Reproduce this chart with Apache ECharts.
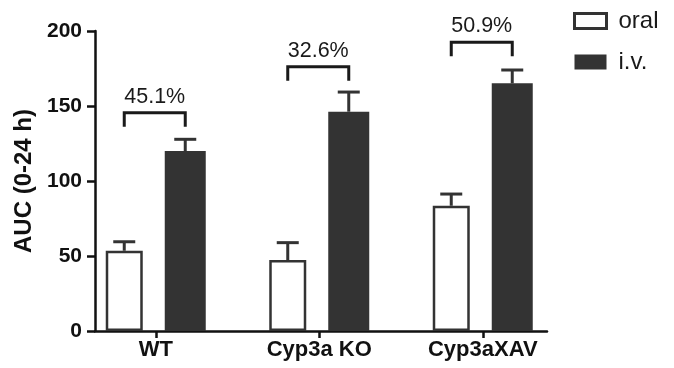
<!DOCTYPE html>
<html>
<head>
<meta charset="utf-8">
<script src="https://cdn.jsdelivr.net/npm/echarts@6/dist/echarts.min.js"></script>
<style>html,body{margin:0;padding:0;background:#fff}#c{width:674px;height:368px}</style>
</head>
<body>
<div id="c"></div>
<script>
// ---- data ----
const categories = ['WT', 'Cyp3a KO', 'Cyp3aXAV'];
const oralMean = [53.5, 47.3, 83.5];
const oralErr = [59.5, 58.9, 91.3];      // top of error bar
const ivMean = [120, 146.2, 165.1];
const ivErr = [127.8, 159.3, 174];       // top of error bar
const bracketLevel = [145.5, 176.2, 192.5];
const bracketText = ['45.1%', '32.6%', '50.9%'];
const yTicks = [0, 50, 100, 150, 200];

// ---- style ----
const FONT = "'Liberation Sans', Arial, Helvetica, sans-serif";
const INK = '#111';
const BAR_DARK = '#333333';
const W_ORAL = 37, W_IV = 41, GAP = 22;
const OFF_ORAL = -(W_ORAL + GAP + W_IV) / 2 + W_ORAL / 2;
const OFF_IV = (W_ORAL + GAP + W_IV) / 2 - W_IV / 2;
const CAP = 22;

function errRender(offset) {
  return function (params, api) {
    const p = api.coord([api.value(0), api.value(1)]);
    const q = api.coord([api.value(0), api.value(2)]);
    const x = p[0] + offset;
    return {
      type: 'group',
      children: [
        { type: 'line', shape: { x1: x, y1: p[1], x2: x, y2: q[1] }, style: { stroke: BAR_DARK, lineWidth: 3 } },
        { type: 'line', shape: { x1: x - CAP / 2, y1: q[1], x2: x + CAP / 2, y2: q[1] }, style: { stroke: BAR_DARK, lineWidth: 3 } }
      ]
    };
  };
}

function bracketRender(params, api) {
  const p = api.coord([api.value(0), api.value(1)]);
  const xl = p[0] + OFF_ORAL, xr = p[0] + OFF_IV, y = p[1];
  return {
    type: 'group',
    children: [
      { type: 'polyline', shape: { points: [[xl, y + 14], [xl, y], [xr, y], [xr, y + 14]] },
        style: { stroke: '#1a1a1a', lineWidth: 3, fill: null } },
      { type: 'text', x: (xl + xr) / 2, y: y - 16,
        style: { text: bracketText[params.dataIndex], fill: '#1a1a1a', font: '21.5px ' + FONT, align: 'center', verticalAlign: 'middle' } }
    ]
  };
}

const chart = echarts.init(document.getElementById('c'), null, { renderer: 'canvas' });
chart.setOption({
  animation: false,
  backgroundColor: '#fff',
  textStyle: { fontFamily: FONT },
  legend: {
    left: 568, top: 4, orient: 'vertical', itemWidth: 32, itemHeight: 15, itemGap: 17,
    icon: 'rect',
    textStyle: { fontSize: 24, color: '#1a1a1a', fontFamily: FONT, padding: [0, 0, 0, 7] },
    data: [
      { name: 'oral', itemStyle: { color: '#fff', borderColor: BAR_DARK, borderWidth: 3 } },
      { name: 'i.v.' }
    ]
  },
  grid: [
    { left: 74, right: 109.5, top: 31, bottom: 37 },
    { left: 95, right: 127, top: 31, bottom: 37 }
  ],
  xAxis: [
    {
      type: 'category', gridIndex: 0, data: categories,
      axisLine: { show: false },
      axisTick: { show: true, alignWithLabel: true, length: 7, lineStyle: { color: INK, width: 2.5 } },
      axisLabel: { fontSize: 22, fontWeight: 'bold', color: INK, margin: 8, fontFamily: FONT },
      splitLine: { show: false }
    },
    {
      type: 'value', gridIndex: 1, min: 0, max: 1,
      axisLine: { show: true, lineStyle: { color: INK, width: 2.5 } },
      axisTick: { show: false }, axisLabel: { show: false }, splitLine: { show: false }
    }
  ],
  yAxis: [
    { type: 'value', gridIndex: 0, min: 0, max: 200, show: false, splitLine: { show: false } },
    {
      type: 'value', gridIndex: 1, min: yTicks[0], max: yTicks[yTicks.length - 1], interval: 50,
      name: 'AUC (0-24 h)', nameLocation: 'middle', nameGap: 54, nameRotate: 90,
      nameTextStyle: { fontSize: 24, fontWeight: 'bold', color: INK, fontFamily: FONT },
      axisLine: { show: true, lineStyle: { color: INK, width: 2.5 } },
      axisTick: { show: true, length: 8, lineStyle: { color: INK, width: 2.5 } },
      axisLabel: { fontSize: 21, fontWeight: 'bold', color: INK, margin: 13, fontFamily: FONT },
      splitLine: { show: false }
    }
  ],
  series: [
    {
      name: 'oral', type: 'bar', xAxisIndex: 0, yAxisIndex: 0, data: oralMean,
      barWidth: W_ORAL, barGap: (GAP / W_ORAL * 100) + '%',
      itemStyle: { color: '#fff', borderColor: BAR_DARK, borderWidth: 2.5 }
    },
    {
      name: 'i.v.', type: 'bar', xAxisIndex: 0, yAxisIndex: 0, data: ivMean,
      barWidth: W_IV,
      itemStyle: { color: BAR_DARK }
    },
    {
      type: 'custom', xAxisIndex: 0, yAxisIndex: 0, renderItem: errRender(OFF_ORAL), z: 3,
      data: oralMean.map((v, i) => [i, v, oralErr[i]])
    },
    {
      type: 'custom', xAxisIndex: 0, yAxisIndex: 0, renderItem: errRender(OFF_IV), z: 3,
      data: ivMean.map((v, i) => [i, v, ivErr[i]])
    },
    {
      type: 'custom', xAxisIndex: 0, yAxisIndex: 0, renderItem: bracketRender, z: 3,
      data: bracketLevel.map((v, i) => [i, v])
    }
  ]
});
</script>
</body>
</html>
